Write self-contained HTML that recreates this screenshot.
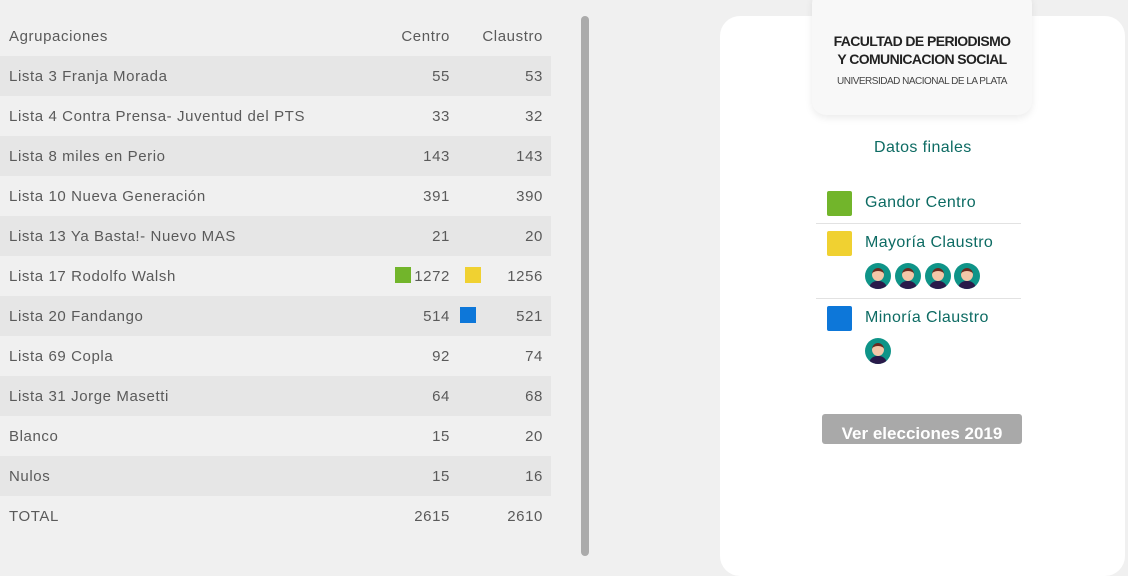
<!DOCTYPE html>
<html><head><meta charset="utf-8"><style>
body{margin:0;width:1128px;height:549px;background:#f0f0f0;font-family:"Liberation Sans",sans-serif;overflow:hidden;position:relative}
table{position:absolute;left:0;top:16px;width:551px;border-collapse:collapse;color:#5a5a5a;font-size:15px;letter-spacing:.6px}
td{height:40px;padding:0;white-space:nowrap}
td:first-child{padding-left:9px}
td.c{text-align:right;width:90px;padding-right:0}
td.k{text-align:right;width:93px}
tr.d{background:#e6e6e6}
.sq{display:inline-block;width:16px;height:16px;vertical-align:-2px;margin-right:20px}
.sq2{display:inline-block;width:16px;height:16px;vertical-align:-2px;margin-right:26px}
.bar{position:absolute;left:581px;top:16px;width:8px;height:540px;background:#ababab;border-radius:4px}
.card{position:absolute;left:720px;top:16px;width:405px;height:560px;background:#fff;border-radius:20px}
.logo{position:absolute;left:812px;top:-10px;width:220px;height:125px;background:#f8f8f8;border-radius:14px;box-shadow:0 3px 8px rgba(0,0,0,.08);text-align:center}
.l1{position:absolute;left:0;right:0;top:42px;font-weight:bold;font-size:14px;line-height:18px;color:#222;letter-spacing:-.6px}
.l2{position:absolute;left:0;right:0;top:86px;font-size:10px;color:#444;letter-spacing:-.5px}
.t{position:absolute;color:#0d6b63;font-size:16px;letter-spacing:.4px}
.leg{position:absolute;width:25px;height:25px;border-radius:2px}
.hr{position:absolute;left:816px;width:205px;height:1px;background:#e2e2e2}
.av{position:absolute;width:26px;height:26px;border-radius:50%;background:#0f9488;overflow:hidden}
.av:before{content:"";position:absolute;left:7px;top:5px;width:12px;height:13px;border-radius:50%;background:#f4c7a8;border-top:3px solid #6b2a1f;box-sizing:border-box}
.av:after{content:"";position:absolute;left:4px;top:18px;width:18px;height:12px;border-radius:8px 8px 0 0;background:#2a1a4a}
.btn{position:absolute;left:822px;top:414px;width:200px;height:30px;background:#a9a9a9;border-radius:3px;color:#fff;font-weight:bold;font-size:17px;text-align:center;line-height:40px;overflow:hidden}
</style></head><body>
<table>
<tr><td>Agrupaciones</td><td class="c">Centro</td><td class="k">Claustro</td><td style="width:8px"></td></tr>
<tr class="d"><td>Lista 3 Franja Morada</td><td class="c">55</td><td class="k">53</td><td></td></tr>
<tr><td>Lista 4 Contra Prensa- Juventud del PTS</td><td class="c">33</td><td class="k">32</td><td></td></tr>
<tr class="d"><td>Lista 8 miles en Perio</td><td class="c">143</td><td class="k">143</td><td></td></tr>
<tr><td>Lista 10 Nueva Generación</td><td class="c">391</td><td class="k">390</td><td></td></tr>
<tr class="d"><td>Lista 13 Ya Basta!- Nuevo MAS</td><td class="c">21</td><td class="k">20</td><td></td></tr>
<tr><td>Lista 17 Rodolfo Walsh</td><td class="c"><span class="sq" style="background:#72b52b;margin-right:3px"></span>1272</td><td class="k"><span class="sq2" style="background:#f0d131"></span>1256</td><td></td></tr>
<tr class="d"><td>Lista 20 Fandango</td><td class="c">514</td><td class="k"><span class="sq2" style="background:#0d77d9;margin-right:40px"></span>521</td><td></td></tr>
<tr><td>Lista 69 Copla</td><td class="c">92</td><td class="k">74</td><td></td></tr>
<tr class="d"><td>Lista 31 Jorge Masetti</td><td class="c">64</td><td class="k">68</td><td></td></tr>
<tr><td>Blanco</td><td class="c">15</td><td class="k">20</td><td></td></tr>
<tr class="d"><td>Nulos</td><td class="c">15</td><td class="k">16</td><td></td></tr>
<tr><td>TOTAL</td><td class="c">2615</td><td class="k">2610</td><td></td></tr>
</table>
<div class="bar"></div>
<div class="card"></div>
<div class="logo"><div class="l1">FACULTAD DE PERIODISMO<br>Y COMUNICACION SOCIAL</div><div class="l2">UNIVERSIDAD NACIONAL DE LA PLATA</div></div>
<div class="t" style="left:874px;top:139px">Datos finales</div>
<div class="leg" style="left:827px;top:191px;background:#72b52b"></div>
<div class="t" style="left:865px;top:194px">Gandor Centro</div>
<div class="hr" style="top:223px"></div>
<div class="leg" style="left:827px;top:231px;background:#f0d131"></div>
<div class="t" style="left:865px;top:234px">Mayoría Claustro</div>
<div class="av" style="left:865px;top:263px"></div>
<div class="av" style="left:895px;top:263px"></div>
<div class="av" style="left:925px;top:263px"></div>
<div class="av" style="left:954px;top:263px"></div>
<div class="hr" style="top:298px"></div>
<div class="leg" style="left:827px;top:306px;background:#0d77d9"></div>
<div class="t" style="left:865px;top:309px">Minoría Claustro</div>
<div class="av" style="left:865px;top:338px"></div>
<div class="btn">Ver elecciones 2019</div>
</body></html>
